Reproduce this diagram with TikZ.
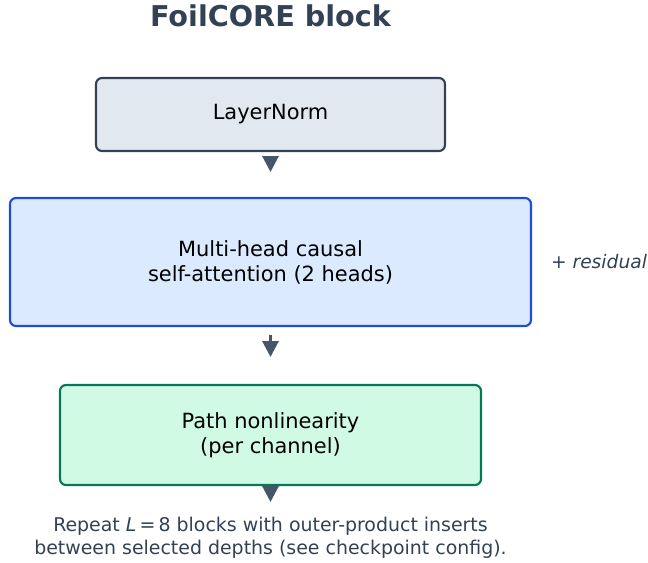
\documentclass[tikz,border=0pt]{standalone}
\usepackage{fontspec}
\setmainfont{DejaVu Sans}
\usepackage{tikz}
\usetikzlibrary{arrows.meta}

\definecolor{slatefill}{HTML}{E2E8F0}
\definecolor{slateline}{HTML}{334155}
\definecolor{arrowgray}{HTML}{475569}
\definecolor{bluefill}{HTML}{DBEAFE}
\definecolor{blueline}{HTML}{1D4ED8}
\definecolor{greenfill}{HTML}{D1FAE5}
\definecolor{greenline}{HTML}{047857}

\tikzset{
  blockbox/.style={draw, rounded corners=4.5pt, line width=1.6pt, align=center,
    inner sep=0pt, font=\fontsize{15.7}{18.75}\selectfont},
  flow/.style={-{Triangle[length=12pt,width=12pt]}, line width=2.25pt, arrowgray},
  notetext/.style={text=slateline, align=center}
}

\begin{document}
\begin{tikzpicture}[x=0.75pt, y=-0.75pt]
\useasboundingbox (0,0) rectangle (648,562);

% --- TITLE ---
\node[text=slateline, font=\fontsize{21.5}{26}\selectfont\bfseries] (title) at (270.5,16) {FoilCORE block};

% --- BLOCKS ---
\node[blockbox, fill=slatefill, draw=slateline, minimum width=261.75pt, minimum height=54.75pt]
    (norm) at (270.5,114.5) {LayerNorm};
\node[blockbox, fill=bluefill, draw=blueline, minimum width=390.75pt, minimum height=96pt]
    (attn) at (270.5,262) {Multi-head causal\\self-attention (2 heads)};
\node[blockbox, fill=greenfill, draw=greenline, minimum width=315.75pt, minimum height=75pt]
    (path) at (270.5,435) {Path nonlinearity\\(per channel)};

% --- ARROWS ---
\coordinate (tip1) at (270.5,172);
\coordinate (tip2) at (270.5,357);
\coordinate (tip3) at (270.5,502);
\draw[flow, shorten <=4pt] (norm.south) -- (tip1);
\draw[flow, shorten <=6pt] (attn.south) -- (tip2);
\draw[flow] (path.south) -- (tip3);

% --- NOTES ---
\node[notetext, font=\fontsize{14}{17}\selectfont\itshape] (resid) at (599,262) {+ residual};
\node[notetext, font=\fontsize{14.2}{17.25}\selectfont] (repeat) at (270.5,537.5)
    {Repeat \textit{L}\,=\,8 blocks with outer-product inserts\\between selected depths (see checkpoint config).};
\end{tikzpicture}
\end{document}
